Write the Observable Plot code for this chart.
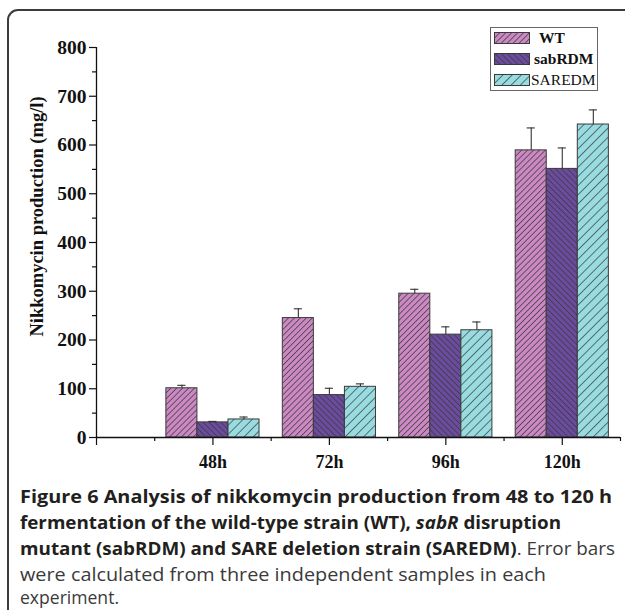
<!DOCTYPE html>
<html>
<head>
<meta charset="utf-8">
<script src="https://cdn.jsdelivr.net/npm/d3@7"></script>
<script src="https://cdn.jsdelivr.net/npm/@observablehq/plot@0.6"></script>
<style>
  html, body { margin: 0; padding: 0; background: #fff; overflow: hidden; width: 625px; height: 610px; }
  #frame { position: absolute; left: 7px; top: 9px; width: 640px; height: 700px; border: 2px solid #3c3c3c; border-radius: 11px; box-sizing: border-box; }
  #chart { position: absolute; left: 0; top: 0; }
  #legend { position: absolute; left: 490px; top: 27px; width: 108px; height: 64px; border: 1px solid #666; box-sizing: border-box; background: #fff; font-family: "Liberation Serif", serif; font-size: 15.5px; color: #111; }
  .lrow { position: absolute; left: 3px; height: 12px; display: flex; align-items: center; }
  .lrow svg { display: block; }
  #caption { position: absolute; left: 20px; top: 483px; width: 605px; font-family: "Open Sans", sans-serif; font-size: 18.6px; line-height: 26.1px; color: #231f20; white-space: nowrap; }
  #caption .line { display: block; transform-origin: 0 50%; width: max-content; }
  #caption .line.last { line-height: 18px; margin-top: 1px; }
  #caption b { font-weight: 700; }
  #caption .lt { font-weight: 400; color: #3a3a3a; }
</style>
</head>
<body>
<div id="frame"></div>
<div id="chart"></div>
<div id="legend"></div>
<div id="caption">
<span class="line" data-w="592"><b>Figure 6 Analysis of nikkomycin production from 48 to 120 h</b></span>
<span class="line" data-w="541"><b>fermentation of the wild-type strain (WT), <i>sabR</i> disruption</b></span>
<span class="line" data-w="595"><b>mutant (sabRDM) and SARE deletion strain (SAREDM)</b><span class="lt">. Error bars</span></span>
<span class="line" data-w="526"><span class="lt">were calculated from three independent samples in each</span></span>
<span class="line last" data-w="99"><span class="lt">experiment.</span></span>
</div>
<script>
// ---- data ----
const categories = ["48h", "72h", "96h", "120h"];
const seriesNames = ["WT", "sabRDM", "SAREDM"];
const wtValues = [101, 245, 295, 589];
const wtErrors = [6, 19, 9, 46];
const sabrdmValues = [31, 87, 211, 551];
const sabrdmErrors = [2, 14, 16, 43];
const saredmValues = [37, 104, 220, 642];
const saredmErrors = [5, 6, 17, 30];
const yMajorTicks = [0, 100, 200, 300, 400, 500, 600, 700, 800];
const yMinorTicks = [50, 150, 250, 350, 450, 550, 650, 750];
const xMajorTicks = [0, 1, 2, 3, 4];
const xMinorTicks = [0.5, 1.5, 2.5, 3.5, 4.5];
const yTitle = "Nikkomycin production (mg/l)";

// ---- styles ----
const patterns = [
  {id: "patWT", bg: "#cc88c3", angle: 45, step: 4.2},
  {id: "patSAB", bg: "#6a4b9e", angle: -45, step: 4.2},
  {id: "patSARE", bg: "#98dbe0", angle: 45, step: 6.5}
];

const valuesBySeries = [wtValues, sabrdmValues, saredmValues];
const errorsBySeries = [wtErrors, sabrdmErrors, saredmErrors];
const groupWidth = 0.8, barW = groupWidth / 3;
const rows = [];
seriesNames.forEach((s, j) => {
  categories.forEach((c, i) => {
    const x1 = (i + 1) - groupWidth / 2 + j * barW;
    rows.push({series: s, j, category: c, x1, x2: x1 + barW, xc: x1 + barW / 2,
      value: valuesBySeries[j][i], err: errorsBySeries[j][i]});
  });
});

function defsMark() {
  const ns = "http://www.w3.org/2000/svg";
  const defs = document.createElementNS(ns, "defs");
  for (const p of patterns) {
    const pat = document.createElementNS(ns, "pattern");
    pat.setAttribute("id", p.id);
    pat.setAttribute("patternUnits", "userSpaceOnUse");
    pat.setAttribute("width", p.step);
    pat.setAttribute("height", p.step);
    pat.setAttribute("patternTransform", `rotate(${p.angle})`);
    const r = document.createElementNS(ns, "rect");
    r.setAttribute("width", p.step); r.setAttribute("height", p.step);
    r.setAttribute("fill", p.bg);
    const l = document.createElementNS(ns, "line");
    l.setAttribute("x1", 0.4); l.setAttribute("y1", 0);
    l.setAttribute("x2", 0.4); l.setAttribute("y2", p.step);
    l.setAttribute("stroke", "#3a3a3a"); l.setAttribute("stroke-width", 0.75);
    pat.appendChild(r); pat.appendChild(l);
    defs.appendChild(pat);
  }
  return defs;
}

const barMarks = seriesNames.map((s, j) =>
  Plot.rectY(rows.filter(d => d.j === j), {
    x1: "x1", x2: "x2", y1: 0, y2: "value",
    fill: `url(#${patterns[j].id})`, stroke: "#3a3a3a", strokeWidth: 1
  })
);

const chart = Plot.plot({
  width: 625,
  height: 475,
  marginLeft: 96,
  marginRight: 5,
  marginTop: 47,
  marginBottom: 38,
  x: {domain: [0, 4.5], axis: null},
  y: {domain: [0, 800], axis: null},
  style: {background: "transparent", fontFamily: "Liberation Serif, serif", color: "#111"},
  marks: [
    defsMark,
    ...barMarks,
    Plot.ruleX(rows, {x: "xc", y1: "value", y2: d => d.value + d.err, stroke: "#333", strokeWidth: 1.1}),
    Plot.ruleY(rows, {y: d => d.value + d.err, x1: d => d.xc - 0.035, x2: d => d.xc + 0.035, stroke: "#333", strokeWidth: 1.1}),
    Plot.ruleX([0], {y1: 0, y2: 800, stroke: "#111", strokeWidth: 1.3}),
    Plot.ruleY([0], {x1: 0, x2: 4.5, stroke: "#111", strokeWidth: 1.3}),
    Plot.axisY(yMajorTicks, {tickSize: 7, tickPadding: 3, fontSize: 19.5, fontWeight: "bold", label: null, stroke: "#111", strokeWidth: 1.2, tickFormat: d => String(d)}),
    Plot.axisY(yMinorTicks, {tickSize: 4, label: null, stroke: "#111", strokeWidth: 1.2, tickFormat: () => ""}),
    Plot.axisX(xMajorTicks, {tickSize: 8, tickPadding: 10, fontSize: 18, fontWeight: "bold", label: null, stroke: "#111", strokeWidth: 1.2, tickFormat: d => d === 0 ? "" : categories[d - 1]}),
    Plot.axisX(xMinorTicks, {tickSize: 4, label: null, stroke: "#111", strokeWidth: 1.2, tickFormat: () => ""}),
    Plot.text([yTitle], {frameAnchor: "left", textAnchor: "middle", rotate: -90, dx: -59, dy: -26, fontSize: 18.5, fontWeight: "bold", fill: "#111"})
  ]
});
document.getElementById("chart").appendChild(chart);

// ---- legend ----
const legend = document.getElementById("legend");
const rowTops = [4, 24.5, 45.5];
seriesNames.forEach((s, j) => {
  const row = document.createElement("div");
  row.className = "lrow";
  row.style.top = rowTops[j] + "px";
  row.innerHTML = `<svg width="36" height="12"><rect x="0.5" y="0.5" width="35" height="11" fill="url(#${patterns[j].id})" stroke="#3a3a3a" stroke-width="1"/></svg>` +
    `<span style="margin-left:${j === 0 ? 9 : j === 1 ? 4 : 1}px;font-weight:${j === 2 ? 400 : 700}">${s}</span>`;
  legend.appendChild(row);
});

// ---- caption: fit each line to the reference line length ----
for (const line of document.querySelectorAll("#caption .line")) {
  const target = +line.dataset.w;
  const w = line.getBoundingClientRect().width;
  if (w > 0) line.style.transform = `scaleX(${target / w})`;
}
</script>
</body>
</html>
